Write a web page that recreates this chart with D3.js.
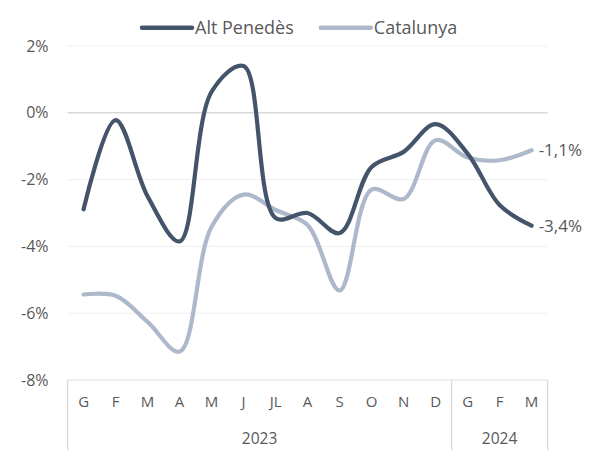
<!DOCTYPE html>
<html>
<head>
<meta charset="utf-8">
<script src="https://cdn.jsdelivr.net/npm/d3@7"></script>
<style>
  html, body { margin: 0; padding: 0; background: #fff; }
  svg { display: block; font-family: "Open Sans", "Lato", sans-serif; }
</style>
</head>
<body>
<svg id="chart" width="596" height="450"></svg>
<script>
// Monthly change (%) — Alt Penedès vs Catalunya
const months = ["G", "F", "M", "A", "M", "J", "JL", "A", "S", "O", "N", "D", "G", "F", "M"];
const monthYears = ["2023", "2023", "2023", "2023", "2023", "2023", "2023", "2023", "2023", "2023", "2023", "2023", "2024", "2024", "2024"];
const altPenedes = [-2.89, -0.22, -2.5, -3.85, 0.63, 1.4, -3.15, -3.0, -3.6, -1.62, -1.17, -0.34, -1.22, -2.76, -3.38];
const catalunya = [-5.44, -5.48, -6.26, -7.15, -3.41, -2.45, -2.91, -3.36, -5.32, -2.3, -2.58, -0.82, -1.34, -1.42, -1.12];
const yTicks = [2, 0, -2, -4, -6, -8];
const seriesNames = ["Alt Penedès", "Catalunya"];
const seriesColors = ["#44546a", "#adb9ca"];

const svg = d3.select("#chart");
const plotLeft = 67.6, plotRight = 547.6, plotTop = 46, plotBottom = 380;
const textColor = "#595959";

const idx = months.map((_, i) => i);
const x = d3.scaleBand().domain(idx).range([plotLeft, plotRight]);
const y = d3.scaleLinear().domain([-8, 2]).range([plotBottom, plotTop]);
const cx = i => x(i) + x.bandwidth() / 2;

// horizontal gridlines
svg.append("g").selectAll("line").data(yTicks).join("line")
  .attr("x1", plotLeft).attr("x2", plotRight)
  .attr("y1", d => y(d)).attr("y2", d => y(d))
  .attr("stroke", d => d === 0 ? "#d9d9d9" : "#f0f0f0")
  .attr("stroke-width", d => d === 0 ? 1.5 : 1);

// y axis labels
const yAxis = d3.axisLeft(y).tickValues(yTicks).tickSize(0).tickPadding(0)
  .tickFormat(d => (d < 0 ? "-" : "") + Math.abs(d) + "%");
svg.append("g").attr("transform", `translate(${plotLeft - 19},0)`).call(yAxis)
  .call(g => g.select(".domain").remove())
  .call(g => g.selectAll("text").attr("fill", textColor).attr("font-size", 16)
    .attr("font-family", "'Open Sans', sans-serif"));

// x axis: month ticks
const xAxis = d3.axisBottom(x).tickSize(0).tickPadding(0).tickFormat(i => months[i]);
svg.append("g").attr("transform", `translate(0,${plotBottom + 16})`).call(xAxis)
  .call(g => g.select(".domain").remove())
  .call(g => g.selectAll("text").attr("fill", textColor).attr("font-size", 15)
    .attr("font-family", "'Open Sans', sans-serif"));

// year groups and separators
const groups = d3.groups(idx, i => monthYears[i]);
const sepX = [x(0)];
groups.forEach(([yr, arr]) => {
  const x0 = x(arr[0]), x1 = x(arr[arr.length - 1]) + x.bandwidth();
  sepX.push(x1);
  svg.append("text").attr("x", (x0 + x1) / 2).attr("y", plotBottom + 64)
    .attr("text-anchor", "middle").attr("fill", textColor).attr("font-size", 15.5)
    .text(yr);
});
svg.append("line").attr("x1", plotLeft).attr("x2", plotRight).attr("y1", plotBottom).attr("y2", plotBottom)
  .attr("stroke", "#e6e6e6");
svg.append("g").selectAll("line").data(sepX).join("line")
  .attr("x1", d => d).attr("x2", d => d).attr("y1", plotBottom).attr("y2", 450)
  .attr("stroke", "#d9d9d9").attr("stroke-width", 1.3);

// smoothed lines
const line = d3.line().x((d, i) => cx(i)).y(d => y(d)).curve(d3.curveCatmullRom.alpha(0.5));
const series = [altPenedes, catalunya];
[1, 0].forEach(s => {
  svg.append("path").datum(series[s])
    .attr("d", line).attr("fill", "none")
    .attr("stroke", seriesColors[s]).attr("stroke-width", 4.2)
    .attr("stroke-linecap", "round").attr("stroke-linejoin", "round");
});

// end-point labels
const fmt = v => v.toFixed(1).replace(".", ",") + "%";
series.forEach(s => {
  const last = s.length - 1;
  svg.append("text").attr("x", 582).attr("y", y(s[last]))
    .attr("dy", "0.35em").attr("text-anchor", "end")
    .attr("fill", textColor).attr("font-size", 17).text(fmt(s[last]));
});

// legend
const legend = svg.append("g").attr("transform", "translate(0,27.7)");
let lx = 142;
seriesNames.forEach((name, i) => {
  legend.append("line").attr("x1", lx).attr("x2", lx + 50).attr("y1", 0).attr("y2", 0)
    .attr("stroke", seriesColors[i]).attr("stroke-width", 4.5).attr("stroke-linecap", "round");
  const t = legend.append("text").attr("x", lx + 53).attr("y", 0).attr("dy", "0.35em")
    .attr("fill", textColor).attr("font-size", 18).text(name);
  lx += 53 + t.node().getComputedTextLength() + 27;
});
</script>
</body>
</html>
